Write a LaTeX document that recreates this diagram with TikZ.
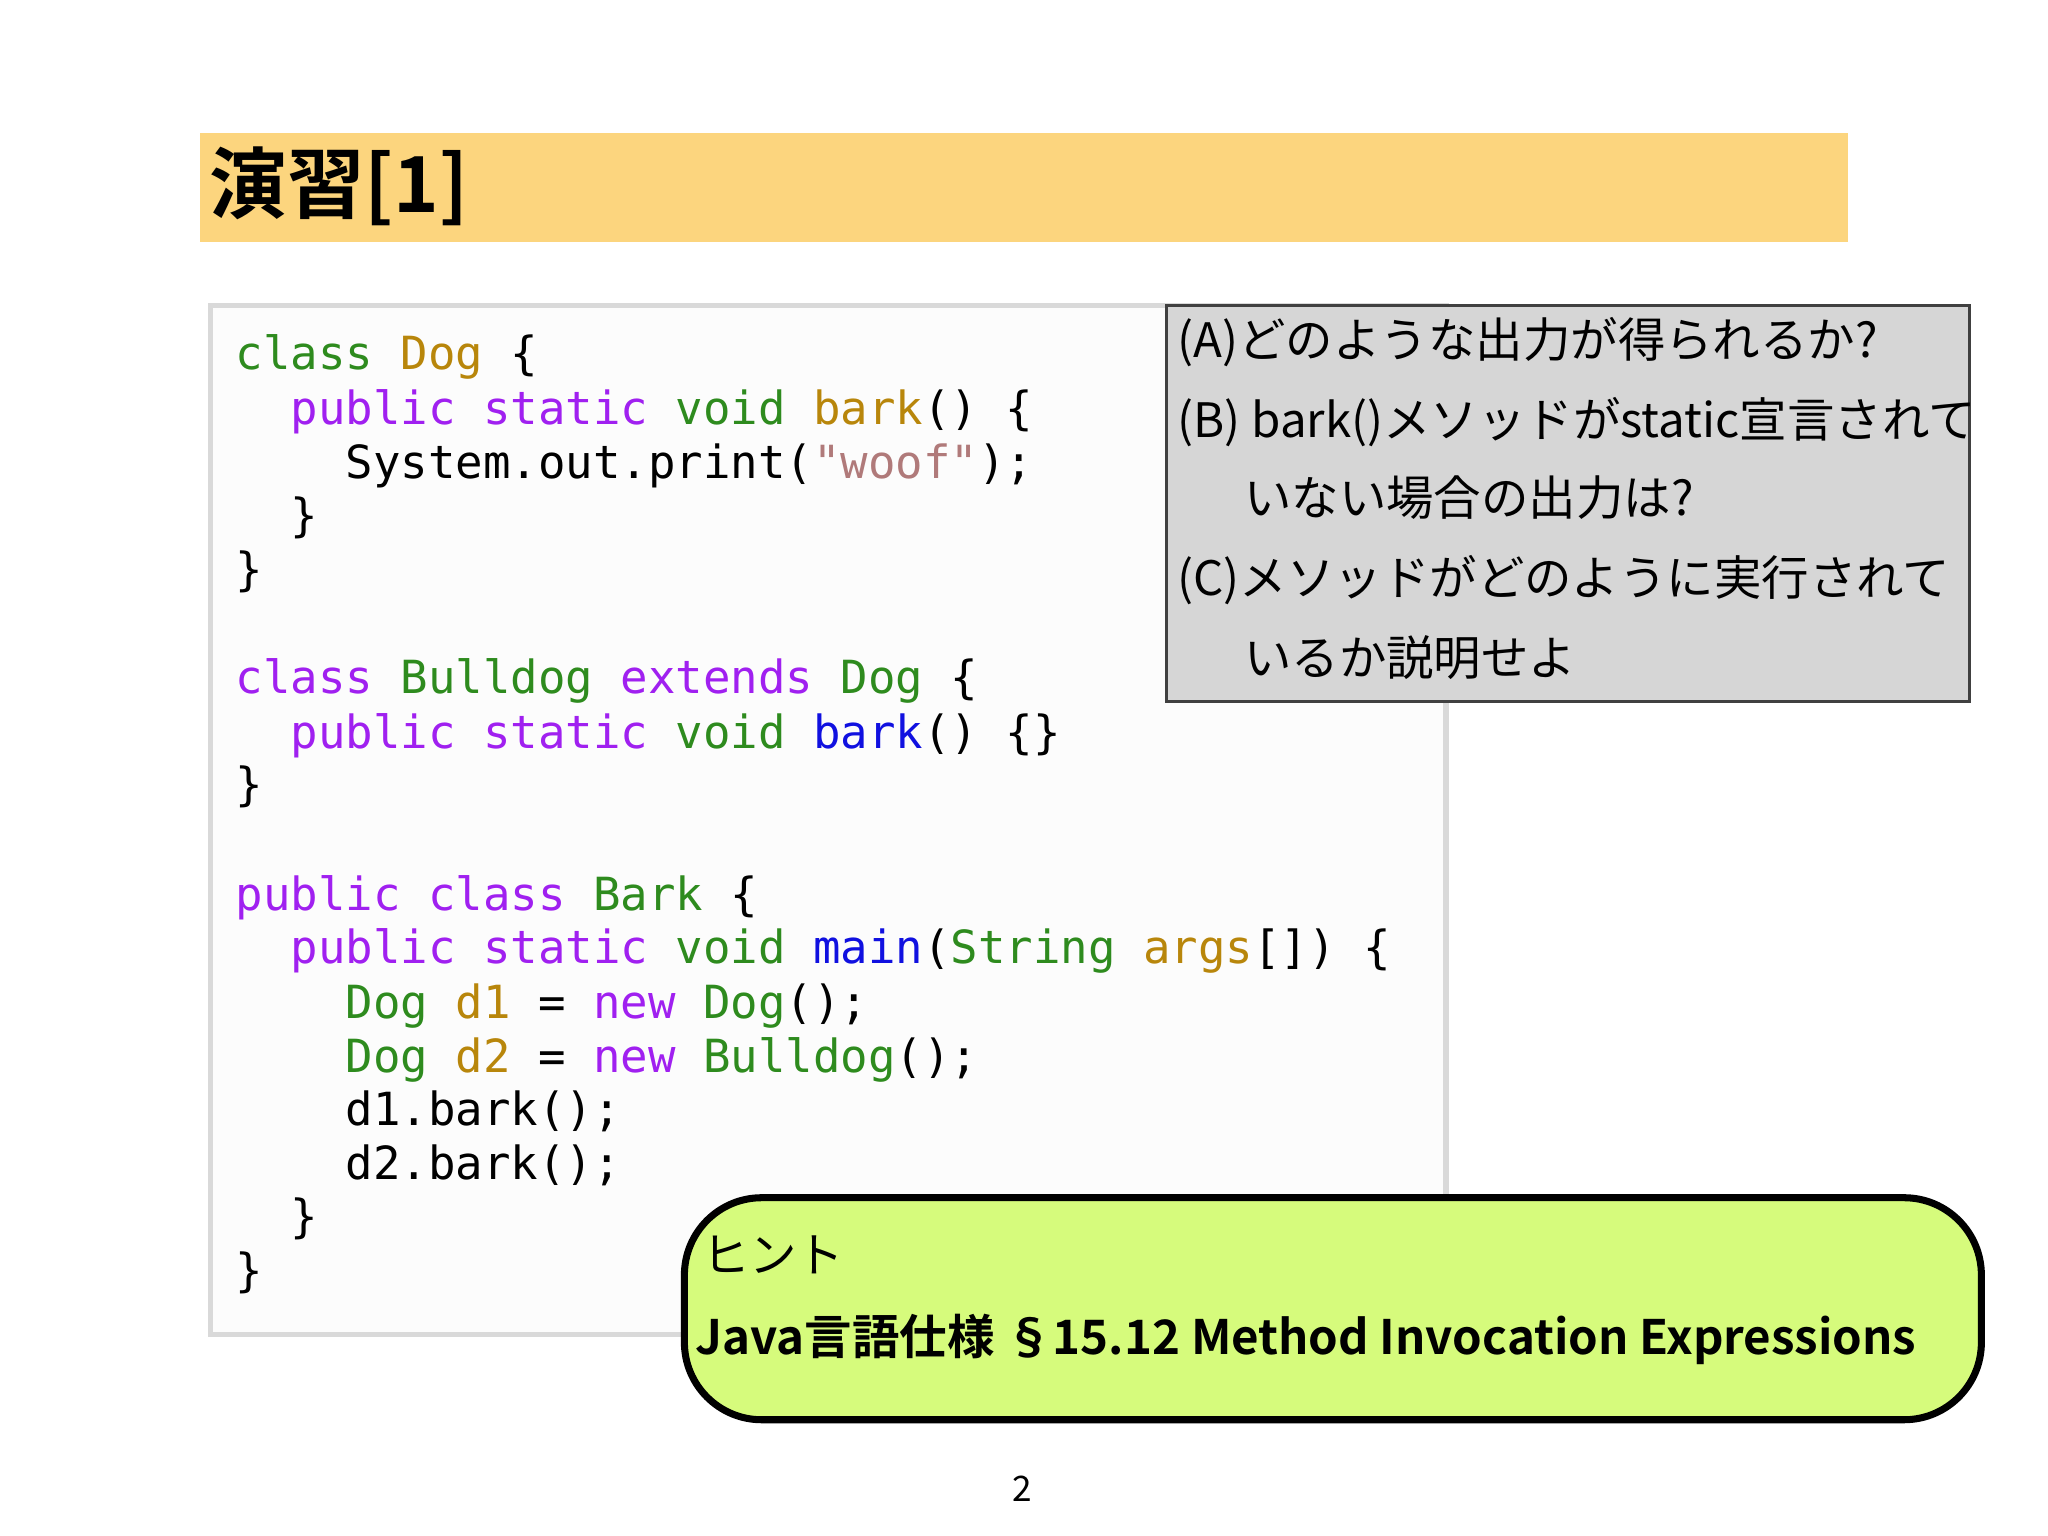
\documentclass[tikz,border=0pt]{standalone}
\usepackage{fontspec}
\setmainfont{Noto Sans CJK JP}
\newfontfamily\codefont{DejaVu Sans Mono}
\newfontfamily\cjkb{Noto Sans CJK JP Bold}
\definecolor{kgreen}{HTML}{2E8B1E}
\definecolor{kgold}{HTML}{B8860B}
\definecolor{kpurp}{HTML}{A020F0}
\definecolor{kblue}{HTML}{1010E0}
\definecolor{kstr}{HTML}{B07A7A}
\definecolor{titlebg}{HTML}{FCD57E}
\definecolor{qbg}{HTML}{D6D6D6}
\definecolor{hintbg}{HTML}{D6FB7C}
\newcommand{\G}[1]{\textcolor{kgreen}{#1}}
\newcommand{\Y}[1]{\textcolor{kgold}{#1}}
\newcommand{\Pp}[1]{\textcolor{kpurp}{#1}}
\newcommand{\B}[1]{\textcolor{kblue}{#1}}
\newcommand{\Sq}[1]{\textcolor{kstr}{#1}}
\begin{document}
\begin{tikzpicture}[x=0.01306cm,y=-0.01306cm,
  code/.style={anchor=base west,inner sep=0,font=\codefont\fontsize{13pt}{15pt}\selectfont},
  qtext/.style={anchor=base west,inner sep=0,font=\fontsize{13.5pt}{16pt}\selectfont}]
\useasboundingbox (0,0) rectangle (1568,1176);
\fill[white] (0,0) rectangle (1568,1176);
\fill[titlebg] (153,102) rectangle (1415,185);
\node[anchor=west,inner sep=0,font=\cjkb\fontsize{22pt}{26pt}\selectfont] (title) at (160,143) {演習[1]};
\draw[black!15,line width=1.5pt,fill=black!1] (161,234) rectangle (1107,1022);
\foreach \yy/\xx/\txt [count=\i] in {
 272/180/{\G{class} \Y{Dog} \{},
 314/222/{\Pp{public} \Pp{static} \G{void} \Y{bark}() \{},
 355/264/{System.out.print(\Sq{"woof"});},
 396/222/{\}},
 437/180/{\}},
 520/180/{\Pp{class} \G{Bulldog} \Pp{extends} \G{Dog} \{},
 562/222/{\Pp{public} \Pp{static} \G{void} \B{bark}() \{\}},
 602/180/{\}},
 686/180/{\Pp{public} \Pp{class} \G{Bark} \{},
 727/222/{\Pp{public} \Pp{static} \G{void} \B{main}(\G{String} \Y{args}[]) \{},
 769/264/{\G{Dog} \Y{d1} = \Pp{new} \G{Dog}();},
 810/264/{\G{Dog} \Y{d2} = \Pp{new} \G{Bulldog}();},
 851/264/{d1.bark();},
 892/264/{d2.bark();},
 933/222/{\}},
 974/180/{\}}}
 \node[code] (c\i) at (\xx,\yy+11) {\txt};
\draw[black!75,line width=1pt,fill=qbg] (893,234) rectangle (1508,537);
\node[qtext] (qa) at (901,274) {(A)どのような出力が得られるか?};
\node[qtext] (qb1) at (901,335) {(B) bark()メソッドがstatic宣言されて};
\node[qtext] (qb2) at (952,395) {いない場合の出力は?};
\node[qtext] (qc1) at (901,456) {(C)メソッドがどのように実行されて};
\node[qtext] (qc2) at (952,517) {いるか説明せよ};
\draw[black,line width=2pt,fill=hintbg,rounded corners=22] (524,917) rectangle (1517,1087);
\node[qtext] (h1) at (537,974) {ヒント};
\node[anchor=base west,inner sep=0,font=\cjkb\fontsize{13.5pt}{16pt}\selectfont] (h2) at (532,1037) {Java言語仕様 §15.12 Method Invocation Expressions};
\node[inner sep=0,font=\fontsize{10pt}{12pt}\selectfont] (pg) at (783,1140) {2};
\end{tikzpicture}
\end{document}
